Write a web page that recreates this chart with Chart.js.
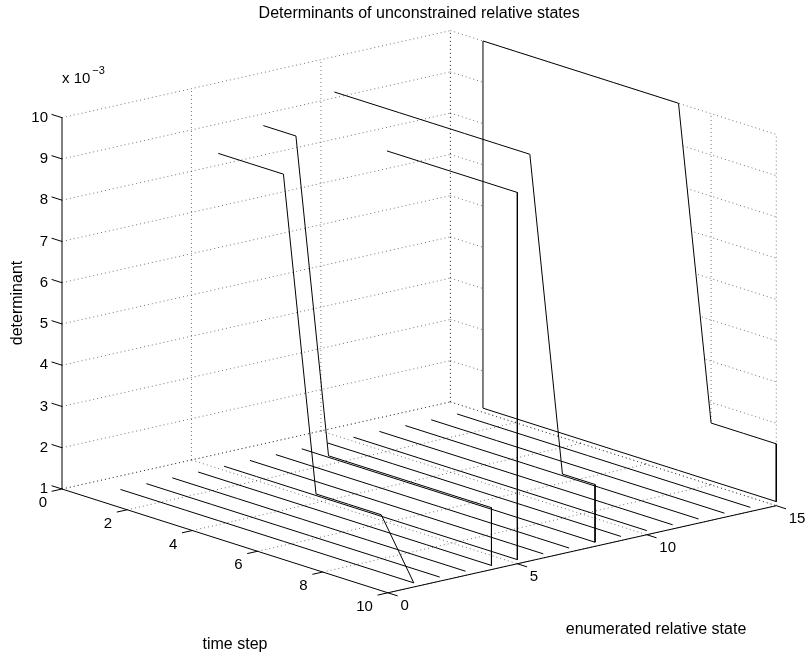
<!DOCTYPE html>
<html>
<head>
<meta charset="utf-8">
<title>Determinants of unconstrained relative states</title>
<script src="https://cdn.jsdelivr.net/npm/chart.js@4.4.1/dist/chart.umd.min.js"></script>
<style>
  html, body { margin: 0; padding: 0; background: #fff; }
  #wrap { width: 809px; height: 657px; }
</style>
</head>
<body>
<div id="wrap"><canvas id="chart" width="809" height="657"></canvas></div>
<script>
// axes of the 3-D box
const timeTicks = [0, 2, 4, 6, 8, 10];
const stateTicks = [0, 5, 10, 15];
const detTicks = [1, 2, 3, 4, 5, 6, 7, 8, 9, 10];   // x 10^-3

const timeSteps = [1, 2, 3, 4, 5, 6, 7, 8, 9, 10];
const states = [1, 2, 3, 4, 5, 6, 7, 8, 9, 10, 11, 12, 13, 14, 15];

// determinant (x 10^-3) per time step, null where nothing is shown
const floorDet = 1.1;
const detState1  = [null, null, null, 10, 10, 10, 2.5, 2.5, 2.5, 1.1];
const detState4  = [null, null, 10, 10, 2.5, 2.5, 2.5, 2.5, 2.5, 2.5];
const detState5  = [null, null, null, null, null, 10, 10, 10, 10, 10];
const detState8  = [null, 10, 10, 10, 10, 10, 10, 10, 2.5, 2.5];
const detState15 = [10, 10, 10, 10, 10, 10, 10, 2.5, 2.5, 2.5];

const traces = [
  { state: 1, det: detState1 },
  { state: 4, det: detState4 },
  { state: 5, det: detState5 },
  { state: 8, det: detState8 },
  { state: 15, det: detState15 }
];

// orthographic view of the box
const view = { az: 50, el: 15.5 };
const boxAspect = { t: 1, s: 1, z: 0.76 };
const tRange = [0, 10], sRange = [0, 15], zRange = [1, 10];
const pxPerUnit = 507;
const origin = { x: 62, y: 489 };   // where the t=0, s=0, z=1 corner sits

function project(t, s, z) {
  const a = view.az * Math.PI / 180, e = view.el * Math.PI / 180;
  const u = (t - tRange[0]) / (tRange[1] - tRange[0]) * boxAspect.t;
  const v = (s - sRange[0]) / (sRange[1] - sRange[0]) * boxAspect.s;
  const w = (z - zRange[0]) / (zRange[1] - zRange[0]) * boxAspect.z;
  return {
    x: u * Math.cos(a) + v * Math.sin(a),
    y: -u * Math.sin(a) * Math.sin(e) + v * Math.cos(a) * Math.sin(e) + w * Math.cos(e)
  };
}

function tracePoints(s, dets) {
  const pts = [];
  const last = dets.length - 1;
  dets.forEach(function(d, i) {
    if (d === null) return;
    const t = timeSteps[i];
    if (i === 0 && d > floorDet) pts.push(project(t, s, floorDet));
    pts.push(project(t, s, d));
    if (i === last && d > floorDet) pts.push(project(t, s, floorDet));
  });
  return pts;
}

const datasets = [];
function addLine(points, style) {
  datasets.push(Object.assign({
    data: points,
    borderColor: '#000',
    borderWidth: 1,
    pointRadius: 0,
    fill: false,
    tension: 0
  }, style));
}

const gridStyle = { borderColor: 'rgba(0,0,0,0.55)', borderDash: [1, 3], order: 4 };
const dataStyle = { order: 2 };
const axisStyle = { order: 1 };

// grid: left wall (t = 0), back wall (s = 15), floor (z = 1)
detTicks.forEach(function(z) {
  addLine([project(0, 0, z), project(0, 15, z)], gridStyle);
  addLine([project(0, 15, z), project(10, 15, z)], gridStyle);
});
stateTicks.slice(1).forEach(function(s) {
  addLine([project(0, s, 1), project(0, s, 10)], gridStyle);
  addLine([project(0, s, 1), project(10, s, 1)], gridStyle);
});
timeTicks.forEach(function(t) {
  addLine([project(t, 15, 1), project(t, 15, 10)], gridStyle);
  addLine([project(t, 0, 1), project(t, 15, 1)], gridStyle);
});

// the back curtain is opaque and hides the wall grid behind it
addLine(tracePoints(15, detState15), {
  borderWidth: 0, fill: 'shape', backgroundColor: '#fff', order: 3
});

// floor line of every state
states.forEach(function(s) {
  addLine(timeSteps.map(function(t) { return project(t, s, floorDet); }), dataStyle);
});
traces.forEach(function(tr) {
  addLine(tracePoints(tr.state, tr.det), dataStyle);
});

// axes and tick marks
addLine([project(0, 0, 1), project(0, 0, 10)], axisStyle);
addLine([project(0, 0, 1), project(10, 0, 1)], axisStyle);
addLine([project(10, 0, 1), project(10, 15, 1)], axisStyle);
detTicks.forEach(function(z) {
  addLine([project(0, 0, z), project(-0.32, 0, z)], axisStyle);
});
timeTicks.forEach(function(t) {
  addLine([project(t, 0, 1), project(t, -0.4, 1)], axisStyle);
});
stateTicks.forEach(function(s) {
  addLine([project(10, s, 1), project(10.3, s, 1)], axisStyle);
});

const tickFont = '15px "Liberation Sans", Arial, sans-serif';
const labelFont = '16px "Liberation Sans", Arial, sans-serif';

const axisText = {
  id: 'axisText',
  afterDraw(chart) {
    const ctx = chart.ctx;
    const xs = chart.scales.x, ys = chart.scales.y;
    const px = function(p) { return { x: xs.getPixelForValue(p.x), y: ys.getPixelForValue(p.y) }; };
    ctx.save();
    ctx.fillStyle = '#000';
    ctx.font = tickFont;
    ctx.textBaseline = 'middle';

    ctx.textAlign = 'right';
    detTicks.forEach(function(z) {
      const p = px(project(0, 0, z));
      ctx.fillText(String(z), p.x - 14, p.y);
    });
    timeTicks.forEach(function(t) {
      const p = px(project(t, 0, 1));
      ctx.fillText(String(t), p.x - 15, p.y + 14);
    });
    ctx.textAlign = 'left';
    stateTicks.forEach(function(s) {
      const p = px(project(10, s, 1));
      ctx.fillText(String(s), p.x + 12.5, p.y + 13.5);
    });

    // exponent above the z axis
    const top = px(project(0, 0, 10));
    ctx.fillText('x 10', top.x, top.y - 39);
    const w = ctx.measureText('x 10').width;
    ctx.font = '11px "Liberation Sans", Arial, sans-serif';
    ctx.fillText('\u22123', top.x + w + 2, top.y - 47);

    ctx.font = labelFont;
    ctx.textAlign = 'center';
    const left = px(project(0, 0, 1)), right = px(project(10, 15, 1));
    ctx.fillText('Determinants of unconstrained relative states', (left.x + right.x) / 2, 14);
    ctx.fillText('time step', 235, 645);
    ctx.fillText('enumerated relative state', 656, 630);

    ctx.translate(18, 303);
    ctx.rotate(-Math.PI / 2);
    ctx.fillText('determinant', 0, 0);
    ctx.restore();
  }
};

new Chart(document.getElementById('chart'), {
  type: 'line',
  data: { datasets: datasets },
  options: {
    responsive: false,
    animation: false,
    events: [],
    layout: { padding: 0 },
    plugins: { legend: { display: false }, tooltip: { enabled: false } },
    scales: {
      x: {
        type: 'linear', display: false,
        min: -origin.x / pxPerUnit, max: (809 - origin.x) / pxPerUnit
      },
      y: {
        type: 'linear', display: false,
        min: -(657 - origin.y) / pxPerUnit, max: origin.y / pxPerUnit
      }
    }
  },
  plugins: [axisText]
});
</script>
</body>
</html>
